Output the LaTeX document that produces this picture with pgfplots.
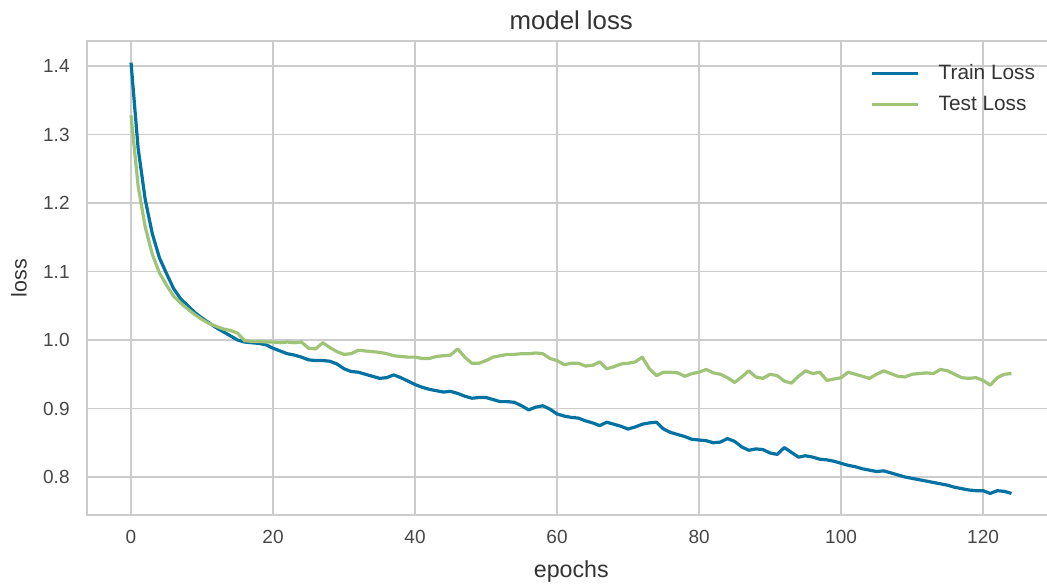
\documentclass[border=0pt]{standalone}
\usepackage{fontspec}
\setmainfont{Liberation Sans}
\usepackage{pgfplots}
\usepackage{pgfplotstable}
\pgfplotsset{compat=1.18}

\definecolor{trainblue}{HTML}{0272A2}
\definecolor{testgreen}{HTML}{9FC377}
\definecolor{gridgray}{HTML}{CCCCCC}
\definecolor{txt}{HTML}{333333}

% per-epoch training history
\pgfplotstableread{
epoch train test
0 1.405 1.328
1 1.280 1.225
2 1.205 1.165
3 1.155 1.125
4 1.120 1.098
5 1.097 1.080
6 1.075 1.064
7 1.060 1.054
8 1.050 1.045
9 1.040 1.037
10 1.032 1.030
11 1.025 1.024
12 1.018 1.020
13 1.012 1.016
14 1.006 1.014
15 1.000 1.010
16 0.997 0.999
17 0.996 0.998
18 0.995 0.998
19 0.993 0.997
20 0.988 0.997
21 0.984 0.996
22 0.980 0.997
23 0.978 0.996
24 0.975 0.997
25 0.971 0.988
26 0.970 0.987
27 0.970 0.996
28 0.969 0.989
29 0.965 0.983
30 0.958 0.979
31 0.954 0.980
32 0.953 0.985
33 0.950 0.984
34 0.947 0.983
35 0.944 0.982
36 0.945 0.980
37 0.949 0.977
38 0.945 0.976
39 0.940 0.975
40 0.935 0.975
41 0.931 0.973
42 0.928 0.973
43 0.926 0.976
44 0.924 0.977
45 0.925 0.978
46 0.922 0.987
47 0.918 0.975
48 0.915 0.966
49 0.916 0.966
50 0.916 0.970
51 0.913 0.975
52 0.910 0.977
53 0.910 0.979
54 0.909 0.979
55 0.904 0.980
56 0.898 0.980
57 0.902 0.981
58 0.904 0.980
59 0.899 0.973
60 0.892 0.970
61 0.889 0.964
62 0.887 0.966
63 0.886 0.966
64 0.882 0.962
65 0.879 0.963
66 0.875 0.968
67 0.880 0.958
68 0.877 0.961
69 0.874 0.965
70 0.870 0.966
71 0.873 0.968
72 0.877 0.975
73 0.879 0.958
74 0.880 0.948
75 0.870 0.953
76 0.865 0.953
77 0.862 0.952
78 0.859 0.947
79 0.855 0.951
80 0.854 0.953
81 0.853 0.957
82 0.850 0.952
83 0.851 0.950
84 0.856 0.945
85 0.852 0.938
86 0.844 0.946
87 0.839 0.955
88 0.841 0.946
89 0.840 0.944
90 0.835 0.950
91 0.833 0.948
92 0.843 0.940
93 0.836 0.937
94 0.829 0.947
95 0.831 0.955
96 0.829 0.951
97 0.826 0.953
98 0.825 0.941
99 0.823 0.943
100 0.820 0.945
101 0.817 0.953
102 0.815 0.950
103 0.812 0.947
104 0.810 0.944
105 0.808 0.950
106 0.809 0.955
107 0.806 0.951
108 0.803 0.947
109 0.800 0.946
110 0.798 0.950
111 0.796 0.951
112 0.794 0.952
113 0.792 0.951
114 0.790 0.957
115 0.788 0.955
116 0.785 0.950
117 0.783 0.945
118 0.781 0.944
119 0.780 0.945
120 0.780 0.941
121 0.776 0.934
122 0.780 0.945
123 0.779 0.950
124 0.776 0.951
}\history

\begin{document}
\begin{tikzpicture}
\begin{axis}[
  name=ax,
  scale only axis,
  width=484.25pt, height=237pt,
  xmin=-6.2, xmax=130.2,
  ymin=0.7445, ymax=1.4365,
  xtick={0,20,...,120},
  ytick={0.8,0.9,1.0,1.1,1.2,1.3,1.4},
  /pgf/number format/assume math mode=true,
  y tick label style={/pgf/number format/fixed, /pgf/number format/fixed zerofill, /pgf/number format/precision=1},
  major tick length=0pt,
  grid=major,
  major grid style={draw=gridgray, line width=0.75pt},
  axis line style={draw=gridgray, line width=0.75pt},
  tick label style={font=\fontsize{9.5}{11}\selectfont, text=txt!90, inner sep=0pt},
  xticklabel style={anchor=north, yshift=-7.5pt},
  yticklabel style={anchor=east, xshift=-8.5pt},
  title={model loss},
  title style={font=\fontsize{12.9}{15}\selectfont, text=txt, at={(axis description cs:0.5,1)}, anchor=base},
  xlabel={epochs},
  xlabel style={font=\fontsize{11.6}{13}\selectfont, text=txt, at={(axis description cs:0.5,-0.1308)}, anchor=base},
  ylabel={loss},
  ylabel style={font=\fontsize{10.7}{13}\selectfont, text=txt, at={(axis description cs:-0.0702,0.5)}, anchor=center},
  legend image code/.code={\draw[#1] (0pt,0pt) -- (23pt,0pt);},
  legend cell align=left,
  legend style={at={(axis description cs:0.8085,0.955)}, anchor=north west,
    draw=none, fill=none, inner sep=0pt, row sep=4.5pt,
    font=\fontsize{10.4}{12}\selectfont, text=txt,
    nodes={inner sep=1pt},
    /tikz/every odd column/.append style={column sep=8.5pt}},
]
\addplot[trainblue, line width=1.6pt, line join=round] table[x=epoch, y=train] {\history};
\addlegendentry{Train Loss}
\addplot[testgreen, line width=1.6pt, line join=round] table[x=epoch, y=test] {\history};
\addlegendentry{Test Loss}
\end{axis}
\pgfresetboundingbox
\path[use as bounding box] (ax.south west) ++(-43.5pt,-35pt) rectangle ++(523.5pt,292.5pt);
\end{tikzpicture}
\end{document}
